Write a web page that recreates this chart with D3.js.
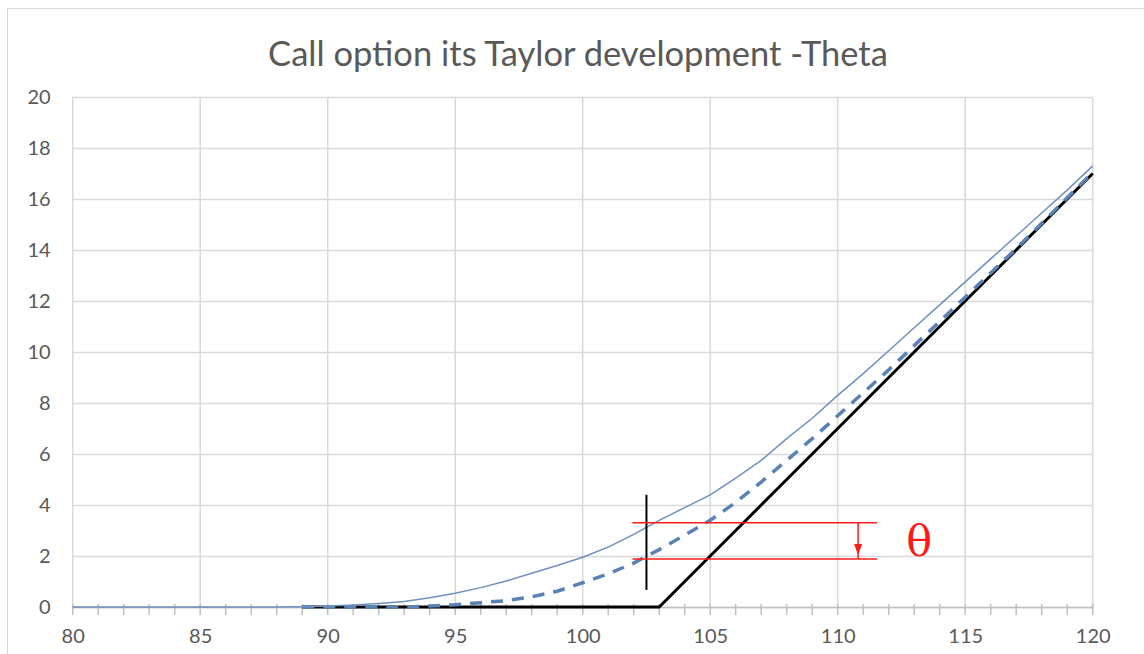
<!DOCTYPE html>
<html>
<head>
<meta charset='utf-8' />
<title>Call option its Taylor development -Theta</title>
<script src="https://d3js.org/d3.v7.min.js"></script>
<style>
body { margin: 0; padding: 0; background: #fff; }
svg text { font-family: Lato, "Open Sans", sans-serif; fill: #595959; }
</style>
</head>
<body>
<div id='chart'></div>
<script>

// spot prices on the x axis
var spot = [80, 81, 82, 83, 84, 85, 86, 87, 88, 89,
            90, 91, 92, 93, 94, 95, 96, 97, 98, 99,
            100, 101, 102, 103, 104, 105, 106, 107, 108, 109,
            110, 111, 112, 113, 114, 115, 116, 117, 118, 119, 120];

// call value today (thin blue)
var callNow = [0, 0, 0, 0, 0, 0, 0, 0, 0, 0.01,
               0.04, 0.08, 0.14, 0.22, 0.36, 0.54, 0.76, 1.02, 1.32, 1.63,
               1.95, 2.35, 2.85, 3.4, 3.9, 4.4, 5.05, 5.75, 6.6, 7.4,
               8.3, 9.15, 10.05, 10.95, 11.85, 12.75, 13.65, 14.55, 15.45, 16.35, 17.3];

// call value one step later (dashed blue), starts at 89
var callLater = [null, null, null, null, null, null, null, null, null, 0,
                 0, 0, 0, 0, 0.04, 0.09, 0.17, 0.25, 0.4, 0.62,
                 0.95, 1.3, 1.72, 2.25, 2.82, 3.4, 4.1, 4.9, 5.75, 6.6,
                 7.5, 8.4, 9.3, 10.25, 11.2, 12.15, 13.1, 14.05, 15.05, 16.05, 17.05];

// payoff at expiry (black), starts at 89
var payoff = [null, null, null, null, null, null, null, null, null, 0,
              0, 0, 0, 0, 0, 0, 0, 0, 0, 0,
              0, 0, 0, 0, 1, 2, 3, 4, 5, 6,
              7, 8, 9, 10, 11, 12, 13, 14, 15, 16, 17];

var xTicks = [80, 85, 90, 95, 100, 105, 110, 115, 120];
var yTicks = [0, 2, 4, 6, 8, 10, 12, 14, 16, 18, 20];

// annotation: spot marker and theta gap
var markerSpot = [102.5];
var markerRange = [0.67, 4.4];
var thetaLevels = [3.3, 1.88];
var thetaSpan = [101.95, 111.55];
var arrowSpot = [110.8];
var thetaLabel = [113.2, 2.6];

var W = 1144, H = 654;
var margin = {top: 97, right: 51.3, bottom: 47, left: 72.7};
var width = W - margin.left - margin.right,
    height = H - margin.top - margin.bottom;

var svg = d3.select("#chart")
  .append("svg")
    .attr("width", W)
    .attr("height", H);

// outer chart frame
svg.append("rect")
  .attr("x", 7.5).attr("y", 8.5)
  .attr("width", 1160).attr("height", 670)
  .attr("fill", "none")
  .attr("stroke", "#d9d9d9");

svg.append("text")
  .attr("x", 578)
  .attr("y", 66)
  .attr("text-anchor", "middle")
  .style("font-size", "34.5px")
  .text("Call option its Taylor development -Theta");

var g = svg.append("g")
  .attr("transform", "translate(" + margin.left + "," + margin.top + ")");

var x = d3.scaleLinear().domain([80, 120]).range([0, width]);
var y = d3.scaleLinear().domain([0, 20]).range([height, 0]);

// grid
g.append("g")
  .selectAll("line.hg")
  .data(yTicks)
  .enter().append("line")
    .attr("x1", 0).attr("x2", width)
    .attr("y1", function(d) { return Math.round(y(d)) + 0.5; })
    .attr("y2", function(d) { return Math.round(y(d)) + 0.5; })
    .attr("stroke", "#d9d9d9").attr("stroke-width", 1.5);

g.append("g")
  .selectAll("line.vg")
  .data(xTicks)
  .enter().append("line")
    .attr("x1", function(d) { return x(d); })
    .attr("x2", function(d) { return x(d); })
    .attr("y1", 0).attr("y2", height)
    .attr("stroke", "#d9d9d9").attr("stroke-width", 1.5);

// y axis labels
var yAxis = g.append("g")
  .call(d3.axisLeft(y).tickValues(yTicks).tickSize(0).tickPadding(22));
yAxis.select(".domain").remove();
yAxis.selectAll("text").style("font-size", "20px").attr("fill", "#595959");

// x axis with minor crossing ticks
var xAxis = g.append("g")
  .attr("transform", "translate(0," + height + ")")
  .call(d3.axisBottom(x).tickValues(xTicks).tickSize(0).tickPadding(22));
xAxis.select(".domain").attr("stroke", "#bfbfbf").attr("stroke-width", 1.5);
xAxis.selectAll("text").style("font-size", "20px").attr("fill", "#595959");

xAxis.selectAll("line.minor")
  .data(spot)
  .enter().append("line")
    .attr("x1", function(d) { return x(d); })
    .attr("x2", function(d) { return x(d); })
    .attr("y1", -3).attr("y2", 8)
    .attr("stroke", "#bfbfbf").attr("stroke-width", 1.5);

var line = function(vals) {
  return d3.line()
    .defined(function(d) { return d !== null; })
    .x(function(d, i) { return x(spot[i]); })
    .y(function(d) { return y(d); })(vals);
};

g.append("path")
  .attr("d", line(payoff))
  .attr("fill", "none")
  .attr("stroke", "#000")
  .attr("stroke-width", 3);

g.append("path")
  .attr("d", line(callLater))
  .attr("fill", "none")
  .attr("stroke", "#5a82b4")
  .attr("stroke-width", 3.5)
  .attr("stroke-dasharray", "12,9");

g.append("path")
  .attr("d", line(callNow))
  .attr("fill", "none")
  .attr("stroke", "#6f8fc0")
  .attr("stroke-width", 1.5);

// annotations
g.append("line")
  .attr("x1", x(markerSpot[0])).attr("x2", x(markerSpot[0]))
  .attr("y1", y(markerRange[0])).attr("y2", y(markerRange[1]))
  .attr("stroke", "#000").attr("stroke-width", 2);

g.selectAll("line.theta")
  .data(thetaLevels)
  .enter().append("line")
    .attr("x1", x(thetaSpan[0])).attr("x2", x(thetaSpan[1]))
    .attr("y1", function(d) { return y(d); })
    .attr("y2", function(d) { return y(d); })
    .attr("stroke", "#ff1a1a").attr("stroke-width", 1.5);

var ax = x(arrowSpot[0]);
g.append("line")
  .attr("x1", ax).attr("x2", ax)
  .attr("y1", y(thetaLevels[0])).attr("y2", y(thetaLevels[1]))
  .attr("stroke", "#ff1a1a").attr("stroke-width", 1.5);

var tip = y(thetaLevels[1]) - 4;
g.append("path")
  .attr("d", "M" + (ax - 4) + "," + (tip - 11) + "L" + (ax + 4) + "," + (tip - 11) + "L" + ax + "," + tip + "Z")
  .attr("fill", "#ff1a1a");

g.append("text")
  .attr("x", x(thetaLabel[0]))
  .attr("y", y(thetaLabel[1]))
  .attr("text-anchor", "middle")
  .attr("dominant-baseline", "central")
  .style("font-family", "'DejaVu Serif', 'Liberation Serif', serif")
  .style("font-size", "43px")
  .style("fill", "#ff1a1a")
  .text("θ");

</script>
</body>
</html>
